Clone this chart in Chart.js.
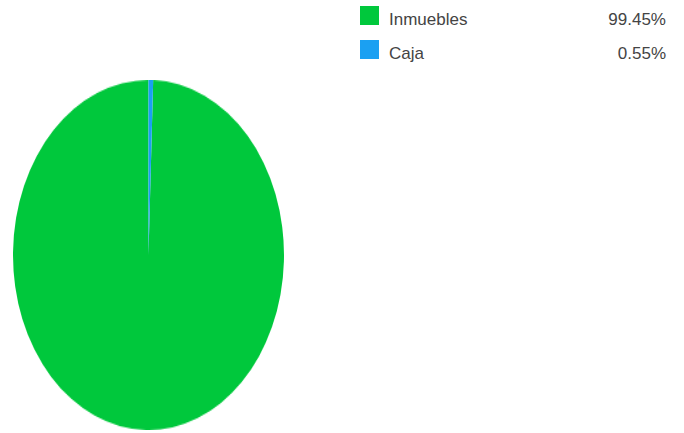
<!DOCTYPE html>
<html>
<head>
<meta charset="utf-8">
<script src="https://cdn.jsdelivr.net/npm/chart.js@4"></script>
<style>
  body { margin: 0; background: #fff; width: 684px; height: 433px; overflow: hidden; position: relative; font-family: "Liberation Sans", Arial, sans-serif; }
  #pie-wrap { position: absolute; left: 13px; top: 80px; width: 271px; height: 271px; transform-origin: 0 0; transform: scaleY(1.2915); }
  #legend { position: absolute; left: 360px; top: 6px; width: 306px; }
  .row { position: relative; height: 34px; font-size: 17px; color: #444; }
  .sw { position: absolute; left: 0; top: 0; width: 19px; height: 19px; }
  .lbl { position: absolute; left: 29px; top: 4px; }
  .pct { position: absolute; right: 0; top: 4px; }
</style>
</head>
<body>
<div id="pie-wrap"><canvas id="pie-chart" width="271" height="271"></canvas></div>
<div id="legend"></div>
<script>
const categories = ['Inmuebles', 'Caja'];
const values = [99.45, 0.55];
const colors = ['#00c83c', '#1ba0f2'];

// legend on the right
const legend = document.getElementById('legend');
categories.forEach((c, i) => {
  const row = document.createElement('div');
  row.className = 'row';
  row.innerHTML = '<div class="sw" style="background:' + colors[i] + '"></div>' +
    '<span class="lbl">' + c + '</span>' +
    '<span class="pct">' + values[i].toFixed(2) + '%</span>';
  legend.appendChild(row);
});

let ctx = document.getElementById('pie-chart').getContext('2d');
window.myPie = new Chart(ctx, {
  type: 'pie',
  data: {
    labels: categories,
    datasets: [{
      data: values,
      backgroundColor: colors,
      borderWidth: 0
    }]
  },
  options: {
    responsive: false,
    animation: false,
    rotation: values[1] / 100 * 360,
    plugins: {
      legend: { display: false },
      tooltip: { enabled: false }
    }
  }
});
</script>
</body>
</html>
